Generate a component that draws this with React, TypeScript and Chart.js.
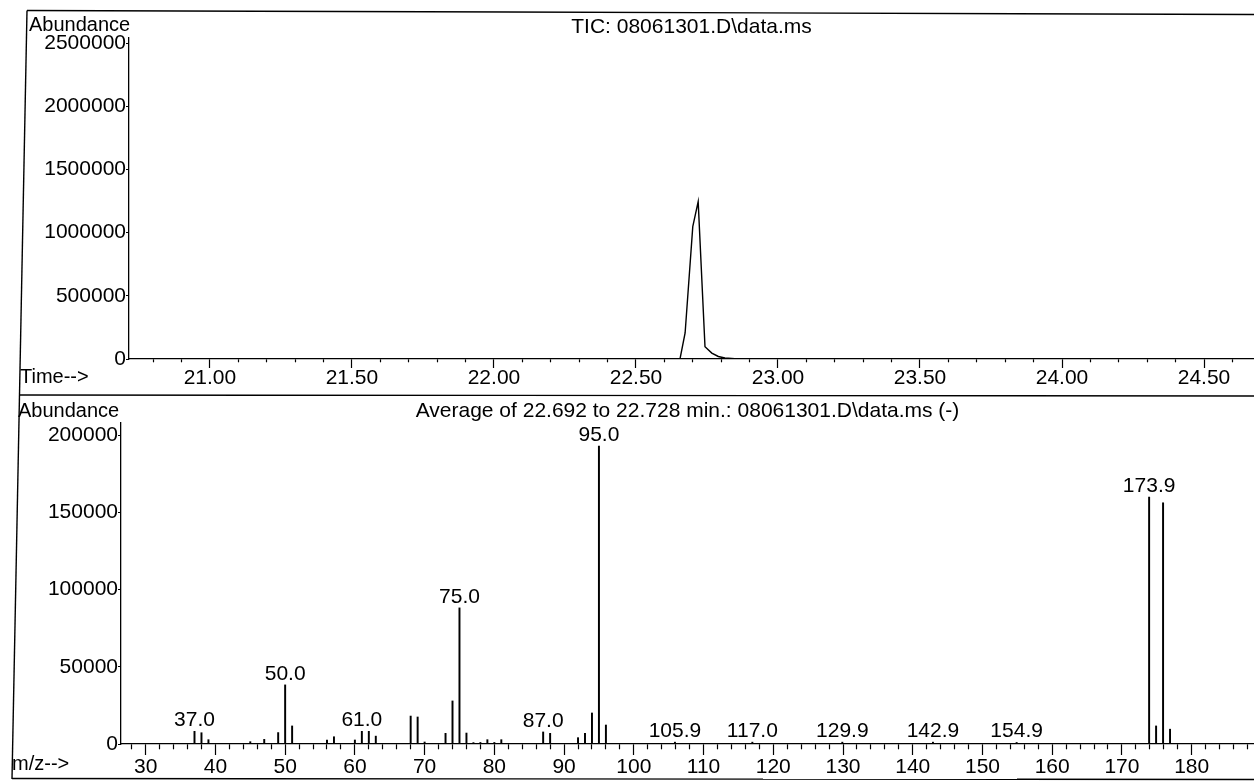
import React, { useEffect, useRef } from 'react';
import { Chart, registerables } from 'chart.js';

Chart.register(...registerables);

const FONT = "'Liberation Sans', Arial, Helvetica, sans-serif";

// ---------- TIC chromatogram (upper panel) ----------
const ticTimes = [20.72, 22.64, 22.655, 22.673, 22.7, 22.719, 22.743, 22.767, 22.79, 22.813, 22.86, 24.676];
const ticAbundance = [0, 0, 0, 206000, 1047000, 1245000, 97000, 47000, 20000, 8000, 0, 0];
const ticYTicks = [0, 500000, 1000000, 1500000, 2000000, 2500000];
const timeMajorTicks = [21.0, 21.5, 22.0, 22.5, 23.0, 23.5, 24.0, 24.5];
const timeMajorLabels = ['21.00', '21.50', '22.00', '22.50', '23.00', '23.50', '24.00', '24.50'];
const TIME_MIN = 20.715;
const TIME_MAX = 24.676;
const TIC_MAX = 2540000;

// ---------- Averaged mass spectrum (lower panel) ----------
const spectrumMz = [
  37, 38, 39, 45, 47, 49, 50, 51, 56, 57, 60, 61, 62, 63, 68, 69, 70,
  73, 74, 75, 76, 77, 78, 79, 80, 81, 87, 88, 92, 93, 94, 95, 96,
  105.9, 117.0, 129.9, 142.9, 154.9, 173.9, 174.9, 175.9, 176.9,
];
const spectrumAbundance = [
  8200, 7300, 2800, 1500, 3000, 7400, 38300, 11700, 2600, 4700, 2600, 8200, 8200, 5100, 18100, 17500, 1300,
  6900, 27900, 88200, 7100, 900, 1000, 2800, 1000, 2800, 7800, 6900, 4100, 6900, 20100, 193000, 12300,
  1200, 1200, 1200, 1200, 1000, 160000, 11700, 156300, 9600,
];
const labelledMz = [37.0, 50.0, 61.0, 75.0, 87.0, 95.0, 105.9, 117.0, 129.9, 142.9, 154.9, 173.9];
const specYTicks = [0, 50000, 100000, 150000, 200000];
const mzMajorTicks = [30, 40, 50, 60, 70, 80, 90, 100, 110, 120, 130, 140, 150, 160, 170, 180];
const mzMajorLabels = ['30', '40', '50', '60', '70', '80', '90', '100', '110', '120', '130', '140', '150', '160', '170', '180'];
const MZ_MIN = 26.46;
const MZ_MAX = 188.94;
const SPEC_MAX = 208000;

const near = (a: number, b: number) => Math.abs(a - b) < 1e-6;

function minorTicks(from: number, to: number, step: number): number[] {
  const out: number[] = [];
  const n = Math.round((to - from) / step);
  for (let i = 0; i <= n; i++) out.push(Math.round((from + i * step) * 1000) / 1000);
  return out;
}

const peakLabelPlugin = {
  id: 'peakLabels',
  afterDatasetsDraw(chart: any) {
    const { ctx } = chart;
    const x = chart.scales.x;
    const y = chart.scales.y;
    ctx.save();
    ctx.font = `21px ${FONT}`;
    ctx.fillStyle = '#000';
    ctx.textAlign = 'center';
    ctx.textBaseline = 'alphabetic';
    labelledMz.forEach((m) => {
      const i = spectrumMz.findIndex((v) => near(v, m));
      const v = i >= 0 ? spectrumAbundance[i] : 0;
      ctx.fillText(m.toFixed(1), x.getPixelForValue(m), y.getPixelForValue(v) - 5);
    });
    ctx.restore();
  },
};

const textBase: React.CSSProperties = {
  position: 'absolute',
  fontFamily: FONT,
  color: '#000',
  lineHeight: '1',
  whiteSpace: 'nowrap',
};

export default function App() {
  const topRef = useRef<HTMLCanvasElement>(null);
  const botRef = useRef<HTMLCanvasElement>(null);

  useEffect(() => {
    const timeTicks = minorTicks(20.8, 24.6, 0.1);
    const mzTicks = minorTicks(28, 188, 2);

    const topChart = new Chart(topRef.current as HTMLCanvasElement, {
      type: 'line',
      data: {
        datasets: [
          {
            data: ticTimes.map((t, i) => ({ x: t, y: ticAbundance[i] })),
            borderColor: '#000',
            borderWidth: 1.4,
            pointRadius: 0,
            tension: 0,
            fill: false,
          },
        ],
      },
      options: {
        responsive: false,
        animation: false,
        events: [],
        layout: { padding: { top: 38, left: 0, right: 0, bottom: 0 } },
        plugins: { legend: { display: false }, tooltip: { enabled: false }, title: { display: false } },
        scales: {
          x: {
            type: 'linear',
            min: TIME_MIN,
            max: TIME_MAX,
            afterBuildTicks: (axis: any) => {
              axis.ticks = timeTicks.map((v) => ({ value: v }));
            },
            afterFit: (axis: any) => {
              axis.height = 36;
            },
            ticks: {
              autoSkip: false,
              maxRotation: 0,
              minRotation: 0,
              padding: -2,
              color: '#000',
              font: { family: FONT, size: 21 },
              callback: (value: any) => {
                const k = timeMajorTicks.findIndex((t) => near(t, Number(value)));
                return k >= 0 ? timeMajorLabels[k] : '';
              },
            },
            grid: {
              drawOnChartArea: false,
              drawTicks: true,
              tickLength: 9,
              tickColor: '#000',
              tickWidth: 1.2,
              tickBorderDash: (ctx: any) =>
                timeMajorTicks.some((t) => near(t, ctx.tick ? ctx.tick.value : 0)) ? [] : [3, 100],
            },
            border: { display: true, color: '#000', width: 1.3 },
          },
          y: {
            type: 'linear',
            min: 0,
            max: TIC_MAX,
            afterBuildTicks: (axis: any) => {
              axis.ticks = ticYTicks.map((v) => ({ value: v }));
            },
            afterFit: (axis: any) => {
              axis.width = 129;
            },
            ticks: {
              padding: 0,
              color: '#000',
              font: { family: FONT, size: 21 },
              callback: (value: any) => String(value),
            },
            grid: { drawOnChartArea: false, drawTicks: true, tickLength: 3, tickColor: '#000', tickWidth: 1.2 },
            border: { display: true, color: '#000', width: 1.3 },
          },
        },
      },
    } as any);

    const botChart = new Chart(botRef.current as HTMLCanvasElement, {
      type: 'bar',
      data: {
        datasets: [
          {
            data: spectrumMz.map((m, i) => ({ x: m, y: spectrumAbundance[i] })),
            backgroundColor: '#000',
            borderWidth: 0,
            barThickness: 1.3,
          },
        ],
      },
      options: {
        responsive: false,
        animation: false,
        events: [],
        layout: { padding: { top: 28, left: 0, right: 0, bottom: 0 } },
        plugins: { legend: { display: false }, tooltip: { enabled: false }, title: { display: false } },
        scales: {
          x: {
            type: 'linear',
            min: MZ_MIN,
            max: MZ_MAX,
            offset: false,
            afterBuildTicks: (axis: any) => {
              axis.ticks = mzTicks.map((v) => ({ value: v }));
            },
            afterFit: (axis: any) => {
              axis.height = 37;
            },
            ticks: {
              autoSkip: false,
              maxRotation: 0,
              minRotation: 0,
              padding: 0,
              color: '#000',
              font: { family: FONT, size: 21 },
              callback: (value: any) => {
                const k = mzMajorTicks.findIndex((t) => near(t, Number(value)));
                return k >= 0 ? mzMajorLabels[k] : '';
              },
            },
            grid: {
              offset: false,
              drawOnChartArea: false,
              drawTicks: true,
              tickLength: 11,
              tickColor: '#000',
              tickWidth: 1.2,
              tickBorderDash: (ctx: any) =>
                mzMajorTicks.some((t) => near(t, ctx.tick ? ctx.tick.value : 0)) ? [] : [5, 100],
            },
            border: { display: true, color: '#000', width: 1.3 },
          },
          y: {
            type: 'linear',
            min: 0,
            max: SPEC_MAX,
            afterBuildTicks: (axis: any) => {
              axis.ticks = specYTicks.map((v) => ({ value: v }));
            },
            afterFit: (axis: any) => {
              axis.width = 121;
            },
            ticks: {
              padding: 0,
              color: '#000',
              font: { family: FONT, size: 21 },
              callback: (value: any) => String(value),
            },
            grid: { drawOnChartArea: false, drawTicks: true, tickLength: 3, tickColor: '#000', tickWidth: 1.2 },
            border: { display: true, color: '#000', width: 1.3 },
          },
        },
      },
      plugins: [peakLabelPlugin],
    } as any);

    return () => {
      topChart.destroy();
      botChart.destroy();
    };
  }, []);

  return (
    <div
      style={{
        position: 'absolute',
        left: 0,
        top: 0,
        width: 1254,
        height: 781,
        background: '#fff',
        overflow: 'hidden',
      }}
    >
      <canvas
        ref={topRef}
        width={1254}
        height={395}
        style={{ position: 'absolute', left: 0, top: 0, width: 1254, height: 395 }}
      />
      <canvas
        ref={botRef}
        width={1254}
        height={386}
        style={{ position: 'absolute', left: 0, top: 395, width: 1254, height: 386 }}
      />
      <svg
        width={1254}
        height={781}
        style={{ position: 'absolute', left: 0, top: 0, pointerEvents: 'none' }}
      >
        <line x1={27} y1={10.5} x2={1254} y2={14.5} stroke="#000" strokeWidth={1.4} />
        <line x1={27} y1={10.5} x2={12} y2={779} stroke="#000" strokeWidth={1.4} />
        <line x1={19} y1={395} x2={1254} y2={396} stroke="#000" strokeWidth={1.4} />
        <line x1={12} y1={778.5} x2={1254} y2={779.5} stroke="#000" strokeWidth={1.4} />
      </svg>
      <div style={{ ...textBase, left: 29, top: 14, fontSize: 20 }}>Abundance</div>
      <div style={{ ...textBase, left: 129, width: 1125, top: 15, fontSize: 21, textAlign: 'center' }}>
        {'TIC: 08061301.D\\data.ms'}
      </div>
      <div style={{ ...textBase, left: 20, top: 366, fontSize: 20 }}>{'Time-->'}</div>
      <div style={{ ...textBase, left: 18, top: 400, fontSize: 20 }}>Abundance</div>
      <div style={{ ...textBase, left: 121, width: 1133, top: 399, fontSize: 21, textAlign: 'center' }}>
        {'Average of 22.692 to 22.728 min.: 08061301.D\\data.ms (-)'}
      </div>
      <div style={{ ...textBase, left: 12, top: 753, fontSize: 20 }}>{'m/z-->'}</div>
    </div>
  );
}
